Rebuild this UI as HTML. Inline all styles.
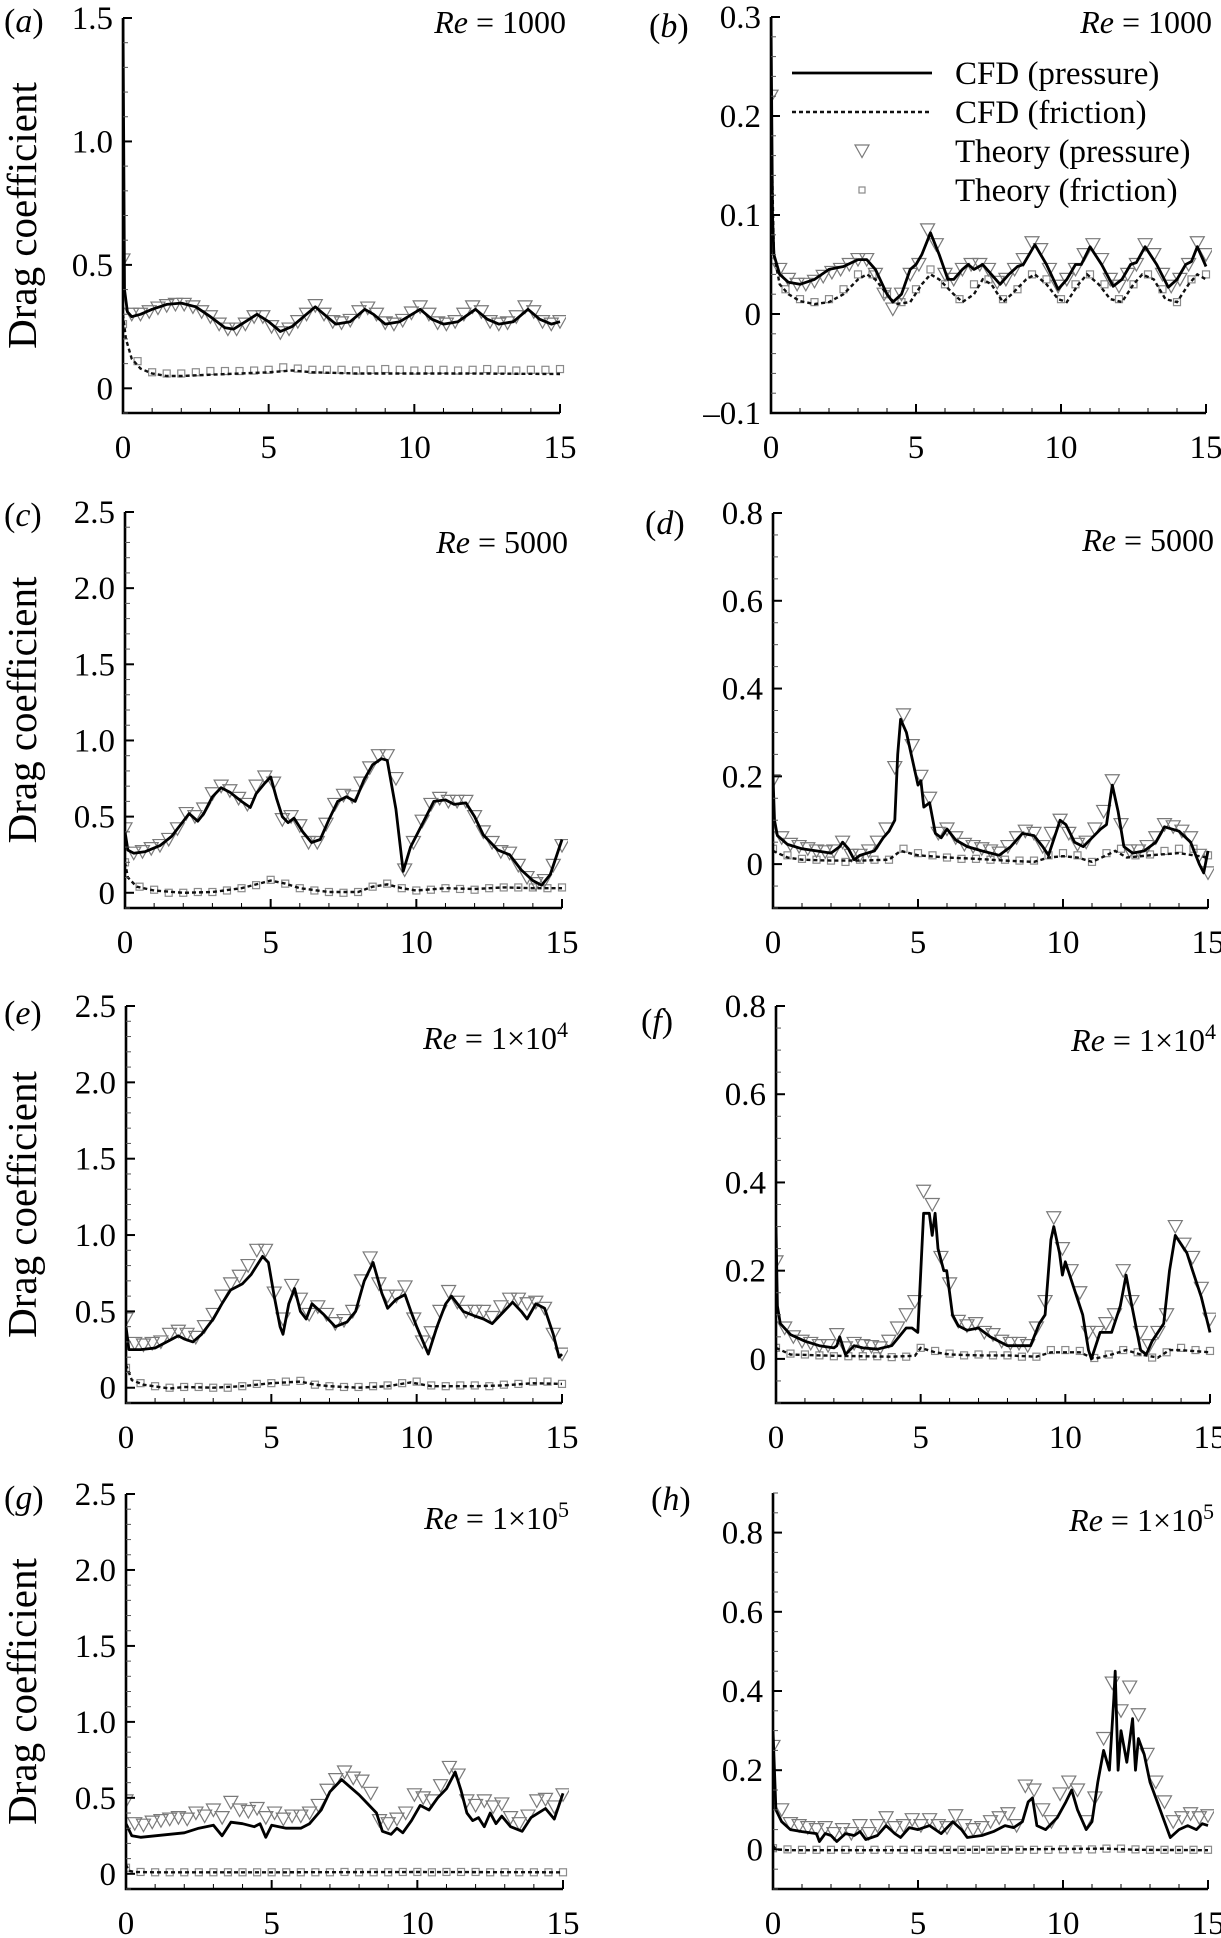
<!DOCTYPE html>
<html><head><meta charset="utf-8"><style>
html,body{margin:0;padding:0;background:#fff;}
svg{display:block;font-family:"Liberation Serif","Times New Roman",serif;}
</style></head><body>
<svg id="fig" width="1221" height="1938" viewBox="0 0 1221 1938" font-family="Liberation Serif, serif" xmlns="http://www.w3.org/2000/svg"></svg>
<script>
// ---- data (time in x, drag coefficient in y) ----
const theoryPT = [0,0.3,0.6,0.9,1.2,1.5,1.8,2.1,2.4,2.7,3.0,3.3,3.6,3.9,4.2,4.5,4.8,5.1,5.4,5.7,6.0,6.3,6.6,6.9,7.2,7.5,7.8,8.1,8.4,8.7,9.0,9.3,9.6,9.9,10.2,10.5,10.8,11.1,11.4,11.7,12.0,12.3,12.6,12.9,13.2,13.5,13.8,14.1,14.4,14.7,15.0];
const theoryFT = [0,0.5,1,1.5,2,2.5,3,3.5,4,4.5,5,5.5,6,6.5,7,7.5,8,8.5,9,9.5,10,10.5,11,11.5,12,12.5,13,13.5,14,14.5,15];

// panel a
const aCfdPT = [0,0.05,0.15,0.3,0.6,1,1.5,2,2.5,3,3.5,3.8,4.2,4.6,5.0,5.4,5.8,6.2,6.6,7.0,7.3,7.8,8.3,8.6,9.0,9.5,10.2,10.6,11,11.5,12.1,12.5,12.9,13.4,13.9,14.3,14.7,15];
const aCfdP = [1.5,0.4,0.31,0.29,0.30,0.32,0.34,0.345,0.33,0.29,0.245,0.24,0.27,0.30,0.27,0.23,0.25,0.29,0.33,0.29,0.26,0.27,0.32,0.30,0.26,0.27,0.32,0.28,0.26,0.27,0.32,0.28,0.26,0.27,0.32,0.28,0.26,0.27];
const aCfdFT = [0,0.1,0.3,0.6,1,1.5,2,3,4,5,5.8,6.5,8,10,12,15];
const aCfdF = [0.3,0.2,0.12,0.08,0.06,0.05,0.05,0.055,0.06,0.065,0.072,0.065,0.06,0.06,0.06,0.058];
const aTheoryP = [0.52,0.30,0.30,0.31,0.325,0.335,0.34,0.34,0.33,0.31,0.29,0.26,0.24,0.24,0.26,0.29,0.29,0.25,0.225,0.24,0.27,0.30,0.335,0.30,0.27,0.265,0.275,0.31,0.325,0.30,0.265,0.26,0.275,0.305,0.33,0.30,0.265,0.26,0.27,0.30,0.33,0.31,0.27,0.26,0.265,0.29,0.33,0.31,0.27,0.26,0.27];
const aTheoryF = [0.26,0.11,0.065,0.06,0.06,0.065,0.07,0.07,0.07,0.072,0.075,0.085,0.08,0.075,0.075,0.075,0.072,0.075,0.078,0.075,0.072,0.075,0.075,0.072,0.075,0.078,0.075,0.072,0.075,0.075,0.078];

// panel b
const bCfdPT = [0,0.05,0.1,0.3,0.6,1.0,1.5,2,2.5,3,3.3,3.6,4.0,4.2,4.5,4.8,5.0,5.2,5.5,5.8,6.1,6.3,6.6,6.8,7.0,7.3,7.6,7.9,8.2,8.5,8.7,9.1,9.5,9.9,10.2,10.5,10.7,11.0,11.4,11.8,12.1,12.4,12.6,12.9,13.3,13.7,14.0,14.3,14.5,14.7,15];
const bCfdP = [0.3,0.1,0.06,0.04,0.032,0.03,0.035,0.045,0.048,0.055,0.055,0.045,0.02,0.012,0.02,0.045,0.05,0.06,0.082,0.06,0.035,0.035,0.045,0.05,0.045,0.05,0.04,0.03,0.04,0.048,0.05,0.07,0.05,0.025,0.035,0.05,0.05,0.068,0.05,0.028,0.035,0.05,0.052,0.068,0.05,0.027,0.035,0.05,0.053,0.068,0.048];
const bCfdFT = [0,0.1,0.3,0.6,1,1.5,2,2.5,3,3.3,3.6,4,4.3,4.8,5.2,5.5,5.8,6.3,6.6,7,7.3,7.6,8,8.3,8.8,9.1,9.5,9.9,10.2,10.6,10.9,11.3,11.7,12.1,12.5,12.8,13.2,13.6,14,14.4,14.7,15];
const bCfdF = [0.2,0.06,0.03,0.02,0.013,0.01,0.012,0.02,0.035,0.04,0.035,0.02,0.01,0.012,0.03,0.04,0.035,0.02,0.012,0.02,0.035,0.03,0.012,0.02,0.035,0.04,0.03,0.015,0.012,0.03,0.04,0.03,0.015,0.012,0.03,0.04,0.035,0.015,0.012,0.03,0.04,0.035];
const bTheoryP = [0.22,0.045,0.035,0.03,0.03,0.033,0.038,0.042,0.045,0.05,0.055,0.055,0.04,0.02,0.005,0.02,0.04,0.05,0.085,0.07,0.04,0.035,0.045,0.05,0.05,0.045,0.032,0.035,0.045,0.055,0.072,0.065,0.045,0.028,0.035,0.045,0.06,0.07,0.055,0.035,0.028,0.04,0.05,0.07,0.06,0.04,0.028,0.035,0.05,0.072,0.06];
const bTheoryF = [0.06,0.025,0.015,0.012,0.015,0.025,0.04,0.04,0.02,0.012,0.025,0.045,0.03,0.015,0.03,0.035,0.015,0.025,0.04,0.035,0.015,0.03,0.04,0.03,0.015,0.03,0.04,0.025,0.012,0.035,0.04];

// panel c
const cCfdPT = [0,0.1,0.3,0.7,1.2,1.6,2.0,2.2,2.5,2.7,3.0,3.3,3.6,4.0,4.3,4.5,4.8,5.0,5.2,5.4,5.6,5.8,6.1,6.4,6.7,7.0,7.3,7.6,7.9,8.2,8.5,8.8,9.0,9.3,9.55,9.8,10.2,10.6,11.0,11.3,11.7,12.0,12.3,12.8,13.2,13.6,14.0,14.3,14.6,15];
const cCfdP = [0.4,0.28,0.26,0.27,0.31,0.37,0.47,0.52,0.47,0.52,0.63,0.69,0.66,0.6,0.56,0.65,0.72,0.76,0.62,0.5,0.46,0.49,0.4,0.33,0.35,0.48,0.6,0.63,0.6,0.74,0.84,0.88,0.87,0.55,0.14,0.3,0.45,0.6,0.61,0.58,0.59,0.5,0.38,0.28,0.25,0.15,0.08,0.05,0.12,0.35];
const cCfdFT = [0,0.1,0.4,1,2,3,4,5,5.5,6,7,8,8.5,9,9.5,10,11,12,13,14,15];
const cCfdF = [0.2,0.1,0.04,0.015,0.0,0.005,0.03,0.08,0.06,0.03,0.005,0.005,0.04,0.055,0.03,0.015,0.03,0.025,0.035,0.03,0.03];
const cTheoryP = [0.42,0.26,0.27,0.29,0.31,0.35,0.42,0.52,0.5,0.55,0.65,0.7,0.67,0.62,0.58,0.7,0.76,0.72,0.48,0.5,0.44,0.33,0.33,0.45,0.58,0.64,0.63,0.72,0.82,0.9,0.9,0.75,0.15,0.33,0.47,0.58,0.62,0.6,0.6,0.6,0.5,0.4,0.33,0.27,0.26,0.18,0.1,0.06,0.08,0.18,0.31];
const cTheoryF = [0.2,0.04,0.02,0.0,0.0,0.005,0.005,0.015,0.03,0.05,0.085,0.06,0.03,0.015,0.005,0.0,0.005,0.04,0.06,0.03,0.015,0.02,0.03,0.025,0.02,0.03,0.035,0.035,0.035,0.03,0.035];

// panel d
const dCfdPT = [0,0.05,0.15,0.5,1,1.5,2,2.3,2.4,2.6,2.8,3,3.5,3.8,4.0,4.2,4.3,4.4,4.6,4.8,5.0,5.1,5.2,5.4,5.6,5.8,6.0,6.3,6.7,7.2,7.8,8.2,8.6,9.0,9.3,9.5,9.7,9.9,10.1,10.4,10.7,11.0,11.3,11.5,11.7,11.9,12.1,12.4,12.8,13.2,13.5,14.0,14.4,14.7,14.85,15];
const dCfdP = [0.2,0.1,0.065,0.045,0.035,0.03,0.025,0.04,0.05,0.035,0.01,0.02,0.03,0.06,0.075,0.1,0.25,0.33,0.3,0.24,0.18,0.19,0.13,0.14,0.07,0.06,0.08,0.055,0.04,0.03,0.02,0.04,0.07,0.065,0.04,0.02,0.06,0.1,0.09,0.05,0.04,0.06,0.08,0.09,0.18,0.12,0.04,0.025,0.03,0.05,0.085,0.075,0.05,0.0,-0.02,0.03];
const dCfdFT = [0,0.5,1,2,3,4,4.4,5,6,7,8,9,9.5,10,10.5,11,11.5,11.8,12.2,13,14,14.5,15];
const dCfdF = [0.03,0.015,0.01,0.008,0.008,0.01,0.03,0.02,0.015,0.012,0.008,0.005,0.015,0.018,0.015,0.005,0.02,0.03,0.015,0.02,0.025,0.02,0.015];
const dTheoryP = [0.19,0.06,0.045,0.04,0.035,0.03,0.028,0.03,0.05,0.02,0.02,0.03,0.05,0.08,0.22,0.34,0.27,0.2,0.15,0.07,0.08,0.06,0.045,0.04,0.035,0.03,0.025,0.04,0.06,0.075,0.07,0.04,0.07,0.1,0.07,0.045,0.05,0.08,0.12,0.19,0.09,0.03,0.03,0.04,0.06,0.09,0.085,0.075,0.06,0.02,-0.02];
const dTheoryF = [0.035,0.02,0.012,0.01,0.008,0.005,0.01,0.01,0.01,0.035,0.025,0.02,0.015,0.012,0.012,0.01,0.01,0.008,0.008,0.02,0.025,0.02,0.005,0.025,0.035,0.02,0.022,0.03,0.035,0.035,0.02];

// panel e
const eCfdPT = [0,0.1,0.5,1,1.5,1.8,2.0,2.3,2.6,3.0,3.3,3.6,4.0,4.3,4.7,4.9,5.1,5.3,5.4,5.6,5.8,6.0,6.2,6.4,6.8,7.2,7.6,7.9,8.2,8.5,8.8,9.0,9.3,9.6,9.8,10.0,10.4,10.7,11.0,11.2,11.6,12.0,12.3,12.6,13.0,13.3,13.6,13.8,14.1,14.4,14.7,14.9,15];
const eCfdP = [0.4,0.25,0.25,0.26,0.31,0.34,0.32,0.3,0.35,0.45,0.55,0.64,0.68,0.74,0.86,0.82,0.6,0.4,0.35,0.55,0.65,0.5,0.45,0.55,0.48,0.4,0.43,0.5,0.7,0.82,0.62,0.52,0.58,0.61,0.5,0.4,0.22,0.4,0.55,0.6,0.5,0.47,0.45,0.42,0.5,0.56,0.5,0.45,0.55,0.52,0.35,0.2,0.22];
const eCfdFT = [0,0.2,0.6,1.5,2,3,4,5,6,6.5,7,8,9,9.8,10.5,12,13,14,15];
const eCfdF = [0.15,0.05,0.02,-0.005,0.005,0.0,0.01,0.03,0.04,0.02,0.01,0.0,0.01,0.035,0.01,0.01,0.015,0.03,0.025];
const eTheoryP = [0.45,0.29,0.28,0.29,0.3,0.35,0.37,0.35,0.33,0.4,0.48,0.6,0.68,0.73,0.8,0.9,0.9,0.62,0.45,0.67,0.58,0.48,0.53,0.48,0.42,0.44,0.5,0.7,0.85,0.68,0.6,0.6,0.66,0.45,0.3,0.36,0.5,0.63,0.56,0.5,0.5,0.5,0.46,0.53,0.58,0.58,0.55,0.56,0.52,0.35,0.22];
const eTheoryF = [0.13,0.03,0.01,0.0,0.005,0.005,0.0,0.0,0.01,0.025,0.03,0.04,0.045,0.02,0.01,0.005,0.005,0.01,0.015,0.03,0.04,0.015,0.01,0.015,0.015,0.01,0.02,0.025,0.04,0.04,0.025];

// panel f
const fCfdPT = [0,0.05,0.15,0.5,1,1.5,2,2.1,2.2,2.4,2.7,3,3.5,4,4.5,4.7,4.9,5.1,5.3,5.4,5.5,5.6,5.8,5.9,6.0,6.1,6.3,6.6,7.0,7.4,8,8.5,8.8,9.1,9.3,9.5,9.6,9.8,9.9,10.0,10.3,10.6,10.8,10.9,11.2,11.6,11.9,12.1,12.3,12.6,12.8,13.0,13.4,13.6,13.8,14.0,14.2,14.4,14.7,15];
const fCfdP = [0.3,0.12,0.08,0.055,0.04,0.03,0.025,0.03,0.05,0.01,0.03,0.025,0.022,0.03,0.07,0.07,0.06,0.33,0.33,0.28,0.33,0.25,0.2,0.2,0.15,0.1,0.075,0.065,0.07,0.05,0.03,0.03,0.03,0.08,0.1,0.27,0.3,0.24,0.19,0.22,0.16,0.1,0.02,0.0,0.06,0.06,0.12,0.19,0.12,0.02,0.01,0.04,0.08,0.2,0.28,0.26,0.24,0.2,0.14,0.06];
const fCfdFT = [0,0.5,2,4,4.8,5,5.5,6,7,8,9,9.5,10.5,11,11.6,12.1,12.6,13.2,13.6,14,15];
const fCfdF = [0.025,0.01,0.007,0.005,0.007,0.025,0.015,0.01,0.008,0.008,0.005,0.015,0.015,0.0,0.01,0.02,0.01,0.003,0.02,0.02,0.015];
const fTheoryP = [0.22,0.07,0.05,0.04,0.035,0.03,0.03,0.055,0.025,0.035,0.03,0.028,0.025,0.04,0.07,0.1,0.13,0.38,0.35,0.23,0.17,0.085,0.075,0.08,0.06,0.055,0.04,0.035,0.035,0.03,0.07,0.13,0.32,0.25,0.2,0.15,0.06,0.06,0.08,0.1,0.2,0.13,0.06,0.03,0.06,0.1,0.3,0.26,0.23,0.16,0.09];
const fTheoryF = [0.025,0.012,0.01,0.008,0.006,0.006,0.006,0.006,0.004,0.005,0.025,0.018,0.012,0.008,0.01,0.008,0.008,0.005,0.005,0.02,0.02,0.018,0.002,0.01,0.02,0.015,0.003,0.015,0.025,0.02,0.018];

// panel g
const gCfdPT = [0,0.2,0.5,1,1.5,2,2.5,3,3.3,3.6,4,4.4,4.6,4.8,5.0,5.5,6,6.3,6.7,7.0,7.4,7.7,8.0,8.3,8.6,8.8,9.1,9.3,9.5,9.8,10.1,10.4,10.7,11.0,11.3,11.5,11.7,11.9,12.1,12.3,12.5,12.7,12.9,13.2,13.6,13.9,14.4,14.7,15];
const gCfdP = [0.33,0.25,0.24,0.25,0.26,0.27,0.3,0.32,0.25,0.34,0.33,0.31,0.33,0.24,0.32,0.3,0.3,0.33,0.42,0.54,0.62,0.57,0.52,0.46,0.4,0.28,0.26,0.3,0.27,0.35,0.45,0.42,0.5,0.56,0.67,0.55,0.4,0.35,0.37,0.31,0.4,0.33,0.38,0.31,0.28,0.37,0.43,0.36,0.53];
const gCfdFT = [0,0.1,0.3,1,5,10,15];
const gCfdF = [0.06,0.02,0.012,0.01,0.01,0.012,0.01];
const gTheoryP = [0.48,0.33,0.32,0.34,0.35,0.36,0.37,0.36,0.4,0.38,0.42,0.37,0.47,0.42,0.41,0.43,0.37,0.4,0.36,0.38,0.38,0.4,0.45,0.55,0.62,0.67,0.63,0.61,0.53,0.35,0.33,0.36,0.4,0.52,0.5,0.48,0.58,0.7,0.65,0.48,0.45,0.48,0.44,0.46,0.37,0.33,0.38,0.48,0.49,0.44,0.52];
const gTheoryF = [0.04,0.012,0.01,0.01,0.01,0.01,0.01,0.01,0.01,0.01,0.01,0.01,0.01,0.01,0.01,0.012,0.01,0.01,0.01,0.012,0.012,0.01,0.012,0.012,0.012,0.01,0.01,0.01,0.01,0.01,0.01];

// panel h
const hCfdPT = [0,0.1,0.3,0.6,1,1.5,1.6,1.8,2,2.2,2.5,2.8,3,3.2,3.6,3.9,4.2,4.4,4.7,5.0,5.4,5.8,6.2,6.5,6.7,7.2,7.6,8.0,8.3,8.6,8.8,8.95,9.1,9.4,9.8,10.1,10.3,10.5,10.8,11.0,11.2,11.4,11.6,11.75,11.8,11.9,12.0,12.2,12.4,12.5,12.6,12.8,13.0,13.2,13.5,13.7,14.0,14.3,14.6,14.8,15];
const hCfdP = [0.3,0.1,0.07,0.05,0.045,0.04,0.02,0.04,0.035,0.02,0.04,0.035,0.045,0.025,0.035,0.06,0.04,0.03,0.055,0.05,0.06,0.04,0.07,0.05,0.03,0.035,0.045,0.06,0.055,0.07,0.12,0.13,0.06,0.05,0.08,0.12,0.15,0.1,0.05,0.07,0.17,0.25,0.2,0.38,0.45,0.2,0.3,0.22,0.33,0.2,0.28,0.24,0.17,0.13,0.07,0.03,0.05,0.06,0.05,0.065,0.06];
const hCfdFT = [0,0.1,0.5,5,11.5,12.5,15];
const hCfdF = [0.01,0.0,-0.002,-0.002,0.002,-0.001,-0.002];
const hTheoryP = [0.26,0.1,0.065,0.06,0.055,0.05,0.055,0.04,0.05,0.04,0.06,0.04,0.06,0.08,0.055,0.06,0.075,0.06,0.075,0.06,0.055,0.085,0.06,0.05,0.055,0.07,0.08,0.09,0.06,0.16,0.15,0.1,0.07,0.14,0.17,0.15,0.07,0.13,0.28,0.42,0.35,0.41,0.34,0.24,0.17,0.12,0.07,0.08,0.09,0.08,0.085];
const hTheoryF = [0.003,0.0,-0.001,-0.001,-0.001,-0.001,-0.001,-0.001,-0.001,-0.001,-0.001,-0.001,-0.001,-0.001,-0.001,-0.001,-0.001,-0.001,-0.001,-0.001,0.0,0.0,0.0,0.002,0.002,0.0,-0.001,-0.001,-0.001,-0.001,-0.001];

// tick labels
const xTickLabels = ["0","5","10","15"];
const bigYTicks = ["0","0.5","1.0","1.5","2.0","2.5"];
const aYTicks = ["0","0.5","1.0","1.5"];
const bYTicks = ["\u20130.1","0","0.1","0.2","0.3"];
const smallYTicks = ["0","0.2","0.4","0.6","0.8"];

const NS = "http://www.w3.org/2000/svg";
const svg = document.getElementById('fig');
function mk(tag, attrs, parent){
  const e = document.createElementNS(NS, tag);
  for (const k in attrs) e.setAttribute(k, attrs[k]);
  (parent||svg).appendChild(e);
  return e;
}

function drawPanel(p){
  const g = mk('g', {});
  
  
  const xs = t => p.x0 + (t/15)*(p.x1-p.x0);
  const ys = v => p.yb - (v - p.ymin)/(p.ymax - p.ymin)*(p.yb - p.yt);
  const cid = 'clip-' + p.id;
  const cp = mk('clipPath', {id: cid}, g);
  mk('rect', {x: p.x0, y: p.yt - 4, width: p.x1 - p.x0 + 6, height: p.yb - p.yt + 4}, cp);
  const plot = mk('g', {'clip-path': 'url(#' + cid + ')'}, g);
  theoryFT.forEach((t,i) => {
    const s = mk('rect', {x: xs(t)-3.5, y: ys(p.thF[i])-3.5, width: 7, height: 7, fill: 'none', stroke: '#8a8a8a', 'stroke-width': 1.2}, plot);
    
    
  });
  theoryPT.forEach((t,i) => {
    const cx = xs(t), cy = ys(p.thP[i]);
    const tri = mk('path', {d: `M${cx-7},${cy-6} L${cx+7},${cy-6} L${cx},${cy+6.5} Z`, fill: 'none', stroke: '#7a7a7a', 'stroke-width': 1.2}, plot);
    
    
  });
  const fd = p.cfT.map((t,i) => (i?'L':'M') + xs(t).toFixed(1) + ',' + ys(p.cfV[i]).toFixed(1)).join(' ');
  const fl = mk('path', {d: fd, fill: 'none', stroke: '#111', 'stroke-width': 2.4, 'stroke-dasharray': '4 3'}, plot);
  
  
  const pd = p.cpT.map((t,i) => (i?'L':'M') + xs(t).toFixed(1) + ',' + ys(p.cpV[i]).toFixed(1)).join(' ');
  const pl = mk('path', {d: pd, fill: 'none', stroke: '#000', 'stroke-width': 2.8, 'stroke-linejoin': 'round'}, plot);
  
  
  const ax = mk('path', {d: `M${p.x0},${p.yt} L${p.x0},${p.yb} L${p.x1},${p.yb}`, fill: 'none', stroke: '#000', 'stroke-width': 2.6}, g);
  
  
  for (let t = 0; t <= 15; t++){
    const major = t % 5 === 0;
    mk('line', {x1: xs(t), x2: xs(t), y1: p.yb, y2: p.yb - (major ? 9 : 5), stroke: '#000', 'stroke-width': major ? 2 : 1}, g);
  }
  xTickLabels.forEach((lab,i) => {
    const tx = mk('text', {x: xs(i*5), y: p.yb + 45, 'font-size': 33, 'text-anchor': 'middle', 'font-family': 'Liberation Serif, serif'}, g);
    tx.textContent = lab;
    
    
  });
  const nMinor = Math.round((p.ymax - p.ymin)/p.minor);
  for (let k = 0; k <= nMinor; k++){
    const v = p.ymin + k*p.minor;
    const isMajor = p.majors.some(m => Math.abs(m - v) < 1e-6);
    mk('line', {x1: p.x0, x2: p.x0 + (isMajor ? 9 : 5), y1: ys(v), y2: ys(v), stroke: isMajor ? '#000' : '#555', 'stroke-width': isMajor ? 2 : 1}, g);
  }
  p.majors.forEach((m,i) => {
    const tx = mk('text', {x: p.x0 - 10, y: ys(m) + 11, 'font-size': 33, 'text-anchor': 'end', 'font-family': 'Liberation Serif, serif'}, g);
    tx.textContent = p.yLabels[i];
    
    
  });
  const lt = mk('text', {x: p.lx, y: p.ly, 'font-size': 34, 'font-family': 'Liberation Serif, serif'}, g);
  lt.innerHTML = '(<tspan font-style="italic">' + p.id + '</tspan>)';
  
  
  const re = mk('text', {x: p.x1 + 6, y: p.reY, 'font-size': 32, 'text-anchor': 'end', 'font-family': 'Liberation Serif, serif'}, g);
  re.innerHTML = '<tspan font-style="italic">Re</tspan> = ' + p.re;
  
  
  if (p.left){
    const cy = (p.yt + p.yb)/2;
    const yt = mk('text', {x: 36, y: cy, 'font-size': 41, 'text-anchor': 'middle', 'font-family': 'Liberation Serif, serif', transform: `rotate(-90 36 ${cy})`}, g);
    yt.textContent = 'Drag coefficient';
    
    
  }
}

const big = [0,0.5,1.0,1.5,2.0,2.5];
const small = [0,0.2,0.4,0.6,0.8];
const sup4 = '1\u00d710<tspan dy="-12" font-size="22">4</tspan>';
const sup5 = '1\u00d710<tspan dy="-12" font-size="22">5</tspan>';
drawPanel({id:'a', left:true, x0:123, x1:560, yt:18, yb:413, ymin:-0.1, ymax:1.5, minor:0.1, majors:[0,0.5,1.0,1.5], yLabels:aYTicks, lx:4, ly:32, reY:33, re:'1000', cpT:aCfdPT, cpV:aCfdP, cfT:aCfdFT, cfV:aCfdF, thP:aTheoryP, thF:aTheoryF});
drawPanel({id:'b', left:false, x0:771, x1:1206, yt:17, yb:413, ymin:-0.1, ymax:0.3, minor:0.02, majors:[-0.1,0,0.1,0.2,0.3], yLabels:bYTicks, lx:649, ly:37, reY:33, re:'1000', cpT:bCfdPT, cpV:bCfdP, cfT:bCfdFT, cfV:bCfdF, thP:bTheoryP, thF:bTheoryF});
drawPanel({id:'c', left:true, x0:125, x1:562, yt:512, yb:908, ymin:-0.1, ymax:2.5, minor:0.1, majors:big, yLabels:bigYTicks, lx:4, ly:526, reY:553, re:'5000', cpT:cCfdPT, cpV:cCfdP, cfT:cCfdFT, cfV:cCfdF, thP:cTheoryP, thF:cTheoryF});
drawPanel({id:'d', left:false, x0:773, x1:1208, yt:513, yb:908, ymin:-0.1, ymax:0.8, minor:0.05, majors:small, yLabels:smallYTicks, lx:645, ly:534, reY:551, re:'5000', cpT:dCfdPT, cpV:dCfdP, cfT:dCfdFT, cfV:dCfdF, thP:dTheoryP, thF:dTheoryF});
drawPanel({id:'e', left:true, x0:126, x1:562, yt:1006, yb:1403, ymin:-0.1, ymax:2.5, minor:0.1, majors:big, yLabels:bigYTicks, lx:4, ly:1024, reY:1049, re:sup4, cpT:eCfdPT, cpV:eCfdP, cfT:eCfdFT, cfV:eCfdF, thP:eTheoryP, thF:eTheoryF});
drawPanel({id:'f', left:false, x0:776, x1:1210, yt:1006, yb:1403, ymin:-0.1, ymax:0.8, minor:0.05, majors:small, yLabels:smallYTicks, lx:641, ly:1032, reY:1051, re:sup4, cpT:fCfdPT, cpV:fCfdP, cfT:fCfdFT, cfV:fCfdF, thP:fTheoryP, thF:fTheoryF});
drawPanel({id:'g', left:true, x0:126, x1:563, yt:1494, yb:1889, ymin:-0.1, ymax:2.5, minor:0.1, majors:big, yLabels:bigYTicks, lx:4, ly:1509, reY:1529, re:sup5, cpT:gCfdPT, cpV:gCfdP, cfT:gCfdFT, cfV:gCfdF, thP:gTheoryP, thF:gTheoryF});
drawPanel({id:'h', left:false, x0:773, x1:1208, yt:1493, yb:1889, ymin:-0.1, ymax:0.9, minor:0.05, majors:small, yLabels:smallYTicks, lx:651, ly:1510, reY:1531, re:sup5, cpT:hCfdPT, cpV:hCfdP, cfT:hCfdFT, cfV:hCfdF, thP:hTheoryP, thF:hTheoryF});

// legend in panel b
const leg = mk('g', {});


const legendLabels = ["CFD (pressure)","CFD (friction)","Theory (pressure)","Theory (friction)"];
const legY = [73, 112, 151, 190];
mk('line', {x1:792, x2:932, y1:legY[0], y2:legY[0], stroke:'#000', 'stroke-width':2.8}, leg);
mk('line', {x1:792, x2:932, y1:legY[1], y2:legY[1], stroke:'#111', 'stroke-width':2.4, 'stroke-dasharray':'4 3'}, leg);
mk('path', {d:`M855,${legY[2]-6} L869,${legY[2]-6} L862,${legY[2]+6.5} Z`, fill:'none', stroke:'#7a7a7a', 'stroke-width':1.2}, leg);
mk('rect', {x:859, y:legY[3]-3, width:6, height:6, fill:'none', stroke:'#8a8a8a', 'stroke-width':1.2}, leg);
legendLabels.forEach((lab,i) => {
  const t = mk('text', {x:955, y:legY[i] + 11, 'font-size': 33, 'font-family': 'Liberation Serif, serif'}, leg);
  t.textContent = lab;
  
  
});
</script>
</body></html>
